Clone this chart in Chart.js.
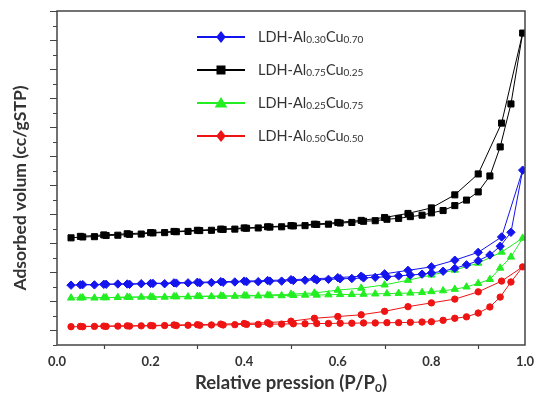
<!DOCTYPE html>
<html>
<head>
<meta charset="utf-8">
<script src="https://cdn.jsdelivr.net/npm/chart.js@4.4.1/dist/chart.umd.min.js"></script>
<style>
  html, body { margin: 0; padding: 0; background: #fff; }
  #wrap { width: 537px; height: 398px; }
</style>
</head>
<body>
<div id="wrap"><canvas id="c" width="537" height="398"></canvas></div>
<script>
// Relative pressures of the adsorption branch and of the desorption branch
const pAds = [0.030, 0.055, 0.080, 0.105, 0.130, 0.155, 0.180, 0.205, 0.230, 0.255,
              0.280, 0.305, 0.330, 0.355, 0.380, 0.405, 0.430, 0.455, 0.480, 0.505,
              0.530, 0.555, 0.580, 0.605, 0.630, 0.655, 0.680, 0.705, 0.730, 0.755,
              0.780, 0.800, 0.825, 0.850, 0.875, 0.900, 0.925, 0.947, 0.970, 0.995];
const pDes = [0.995, 0.95, 0.90, 0.85, 0.80, 0.75, 0.70, 0.65, 0.60, 0.55,
              0.50, 0.45, 0.40, 0.35, 0.30, 0.25, 0.20, 0.15, 0.10, 0.05];

// Adsorbed volume (offset isotherms), adsorption then desorption
const blueAds = [15.6, 15.8, 15.7, 15.9, 16.0, 15.9, 16.1, 16.2, 16.1, 16.3,
                 16.4, 16.4, 16.5, 16.6, 16.7, 16.8, 16.8, 17.0, 17.0, 17.2,
                 17.3, 17.4, 17.6, 17.8, 17.9, 18.1, 18.3, 18.5, 18.8, 19.1,
                 19.4, 19.8, 20.4, 21.4, 22.6, 24.0, 26.0, 29.0, 33.8, 55.2];
const blueDes = [55.2, 32.2, 26.9, 24.2, 21.9, 20.7, 19.5, 18.7, 18.2, 17.8,
                 17.5, 17.2, 17.0, 16.8, 16.6, 16.4, 16.2, 16.0, 15.9, 15.7];

const blackAds = [31.9, 32.2, 32.3, 32.7, 32.8, 33.1, 33.2, 33.6, 33.7, 34.0,
                  34.1, 34.4, 34.5, 34.8, 34.9, 35.2, 35.3, 35.6, 35.7, 36.0,
                  36.1, 36.5, 36.6, 37.0, 37.2, 37.6, 37.8, 38.3, 38.6, 39.2,
                  39.7, 40.5, 41.3, 43.0, 44.9, 47.7, 53.2, 63.2, 78.0, 102.4];
const blackDes = [102.4, 71.4, 53.9, 46.7, 42.2, 40.3, 38.9, 37.9, 37.2, 36.6,
                  36.1, 35.7, 35.3, 34.9, 34.5, 34.1, 33.7, 33.3, 32.9, 32.4];

const greenAds = [11.2, 11.3, 11.2, 11.3, 11.4, 11.4, 11.5, 11.4, 11.5, 11.6,
                  11.6, 11.7, 11.7, 11.8, 11.8, 11.9, 11.9, 12.0, 12.0, 12.1,
                  12.2, 12.2, 12.3, 12.4, 12.4, 12.5, 12.6, 12.7, 12.8, 12.9,
                  13.1, 13.4, 13.7, 14.2, 15.0, 16.2, 17.6, 21.5, 25.3, 31.8];
const greenDes = [31.8, 27.0, 23.2, 20.8, 19.1, 17.3, 15.7, 14.6, 13.9, 12.9,
                  12.5, 12.2, 12.0, 11.9, 11.8, 11.7, 11.6, 11.5, 11.3, 11.2];

const redAds = [1.3, 1.3, 1.4, 1.4, 1.5, 1.5, 1.6, 1.6, 1.7, 1.7,
                1.8, 1.8, 1.9, 1.9, 2.0, 2.1, 2.1, 2.2, 2.2, 2.3,
                2.3, 2.4, 2.4, 2.5, 2.5, 2.6, 2.6, 2.7, 2.7, 2.8,
                2.9, 3.0, 3.5, 4.2, 4.7, 6.0, 8.1, 11.5, 16.7, 21.9];
const redDes = [21.9, 17.0, 13.3, 10.8, 9.5, 8.2, 6.6, 5.4, 4.8, 4.2,
                3.2, 2.7, 2.4, 2.2, 2.0, 1.9, 1.7, 1.6, 1.5, 1.4];

// Sample compositions (subscripts of Al and Cu)
const alFrac = ['0.30', '0.75', '0.25', '0.50'];
const cuFrac = ['0.70', '0.25', '0.75', '0.50'];
const xTickLabels = ['0.0', '0.2', '0.4', '0.6', '0.8', '1.0'];

const colors = ['#1414ee', '#000000', '#22ee22', '#ee1414'];
const plotStyles = ['rectRot', 'rect', 'triangle', 'circle'];
const legendStyles = ['rectRot', 'rect', 'triangle', 'rectRot'];
const radii = [4.2, 4.3, 4.2, 3.2];

function isotherm(ads, des) {
  const pts = ads.map((v, i) => ({ x: pAds[i], y: v }));
  des.slice(1).forEach((v, i) => pts.push({ x: pDes[i + 1], y: v }));
  return pts;
}
const seriesData = [
  isotherm(blueAds, blueDes),
  isotherm(blackAds, blackDes),
  isotherm(greenAds, greenDes),
  isotherm(redAds, redDes)
];

const FONT = 'Lato, "Open Sans", "Liberation Sans", sans-serif';
const TEXT = '#333333';

function marker(ctx, style, x, y, r) {
  ctx.beginPath();
  if (style === 'rectRot') {
    ctx.moveTo(x, y - r); ctx.lineTo(x + r * 0.8, y); ctx.lineTo(x, y + r); ctx.lineTo(x - r * 0.8, y);
    ctx.closePath();
  } else if (style === 'rect') {
    ctx.rect(x - r, y - r, 2 * r, 2 * r);
  } else if (style === 'triangle') {
    ctx.moveTo(x, y - r); ctx.lineTo(x + r * 1.05, y + r * 0.75); ctx.lineTo(x - r * 1.05, y + r * 0.75);
    ctx.closePath();
  } else {
    ctx.arc(x, y, r, 0, Math.PI * 2);
  }
  ctx.fill();
}

// Frame, tick marks, axis titles and the in-plot legend
const decorations = {
  id: 'decorations',
  afterDraw(chart) {
    const { ctx, chartArea: a, scales: { x, y } } = chart;
    ctx.save();
    ctx.strokeStyle = '#444';
    ctx.lineWidth = 1.5;
    ctx.strokeRect(a.left, a.top, a.right - a.left, a.bottom - a.top);

    ctx.lineWidth = 1.2;
    ctx.beginPath();
    for (let v = -5; v <= 110; v += 5) {
      const py = Math.round(y.getPixelForValue(v)) + 0.5;
      const len = v % 10 === 0 ? 7 : 4;
      ctx.moveTo(a.left - len, py); ctx.lineTo(a.left, py);
    }
    for (let k = 1; k < 10; k += 2) {
      const px = Math.round(x.getPixelForValue(k / 10)) + 0.5;
      ctx.moveTo(px, a.bottom); ctx.lineTo(px, a.bottom + 4);
    }
    ctx.stroke();

    ctx.fillStyle = TEXT;
    // y title
    ctx.save();
    ctx.translate(20, 188);
    ctx.rotate(-Math.PI / 2);
    ctx.font = 'bold 17.5px ' + FONT;
    ctx.textAlign = 'center';
    ctx.textBaseline = 'middle';
    ctx.fillText('Adsorbed volum (cc/gSTP)', 0, 0);
    ctx.restore();

    // x title with subscript
    ctx.textBaseline = 'alphabetic';
    ctx.textAlign = 'left';
    const big = 'bold 18.5px ' + FONT, small = 'bold 12px ' + FONT;
    const parts = [['Relative pression (P/P', big, 0], ['0', small, 3], [')', big, 0]];
    let w = 0;
    parts.forEach(p => { ctx.font = p[1]; w += ctx.measureText(p[0]).width; });
    let cx = (a.left + a.right) / 2 - w / 2;
    parts.forEach(p => { ctx.font = p[1]; ctx.fillText(p[0], cx, 389 + p[2]); cx += ctx.measureText(p[0]).width; });

    // legend
    chart.data.datasets.forEach((ds, i) => {
      const ly = 37 + i * 33;
      ctx.strokeStyle = colors[i];
      ctx.fillStyle = colors[i];
      ctx.lineWidth = 2;
      ctx.beginPath(); ctx.moveTo(197, ly); ctx.lineTo(245, ly); ctx.stroke();
      marker(ctx, legendStyles[i], 221, ly, legendStyles[i] === 'rect' ? 4.5 : 6);
      ctx.fillStyle = TEXT;
      ctx.textBaseline = 'middle';
      const segs = [['LDH-Al', '14.5px ' + FONT, 0], [alFrac[i], '10px ' + FONT, 3],
                    ['Cu', '14.5px ' + FONT, 0], [cuFrac[i], '10px ' + FONT, 3]];
      let tx = 258;
      segs.forEach(s => { ctx.font = s[1]; ctx.fillText(s[0], tx, ly + s[2]); tx += ctx.measureText(s[0]).width; });
    });
    ctx.restore();
  }
};

new Chart(document.getElementById('c'), {
  type: 'line',
  data: {
    datasets: seriesData.map((d, i) => ({
      label: 'LDH-Al' + alFrac[i] + 'Cu' + cuFrac[i],
      data: d,
      borderColor: colors[i],
      backgroundColor: colors[i],
      borderWidth: 1,
      pointStyle: plotStyles[i],
      pointRadius: radii[i],
      pointBorderWidth: 1,
      pointBackgroundColor: colors[i],
      pointBorderColor: colors[i],
      tension: 0,
      fill: false
    }))
  },
  options: {
    responsive: false,
    animation: false,
    devicePixelRatio: 1,
    layout: { padding: { top: 11, right: 12, left: 0, bottom: 0 } },
    plugins: { legend: { display: false }, tooltip: { enabled: false } },
    scales: {
      x: {
        type: 'linear', min: 0, max: 1,
        afterFit: s => { s.height = 53; s.paddingLeft = 0; s.paddingRight = 0; },
        grid: { display: false, drawTicks: false },
        border: { display: false },
        ticks: {
          stepSize: 0.2, padding: 9, color: TEXT,
          font: { family: FONT, size: 13, weight: 'bold' },
          callback: (v) => xTickLabels[Math.round(v * 5)] ?? ''
        }
      },
      y: {
        type: 'linear', min: -5, max: 110,
        afterFit: s => { s.width = 57; s.paddingTop = 0; s.paddingBottom = 0; },
        grid: { display: false, drawTicks: false },
        border: { display: false },
        ticks: { display: false }
      }
    }
  },
  plugins: [decorations]
});
</script>
</body>
</html>
